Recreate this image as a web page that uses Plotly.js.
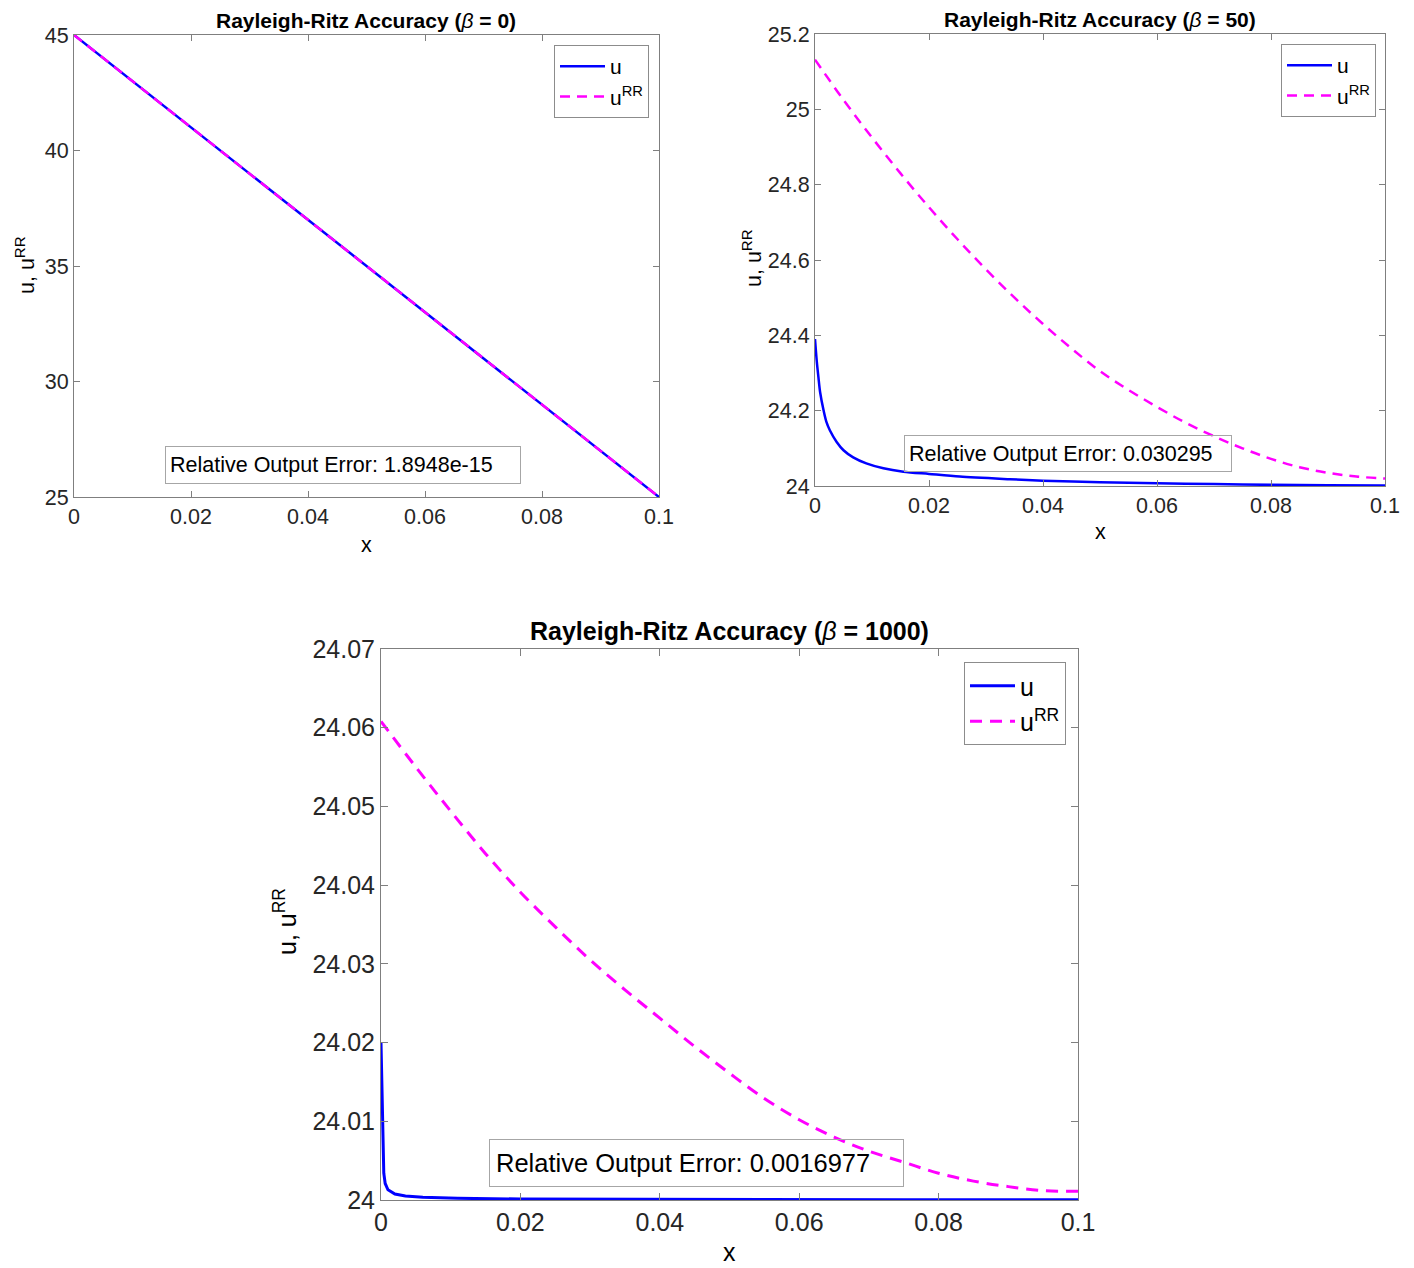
<!DOCTYPE html>
<html>
<head>
<meta charset="utf-8">
<script src="https://cdn.plot.ly/plotly-3.0.1.min.js"></script>
<style>html,body{margin:0;padding:0;background:#fff;}</style>
</head>
<body>
<div id="chart" style="width:1414px;height:1268px;"></div>
<script>
// ---------- data ----------
// beta = 0
const x_b0   = [0, 0.02, 0.04, 0.06, 0.08, 0.1];
const u_b0   = [45, 41, 37, 33, 29, 25];
const uRR_b0 = [45, 41, 37, 33, 29, 25];

// beta = 50
const x_u_b50 = [0, 0.0003, 0.0006, 0.0009, 0.0015, 0.002, 0.0026, 0.0038, 0.005, 0.0067, 0.009, 0.012, 0.0155, 0.02, 0.0254, 0.0342, 0.04, 0.05, 0.06, 0.07, 0.08, 0.09, 0.1];
const u_b50   = [24.390, 24.333, 24.289, 24.249, 24.201, 24.170, 24.148, 24.117, 24.095, 24.076, 24.060, 24.047, 24.038, 24.032, 24.025, 24.018, 24.014, 24.010, 24.007, 24.005, 24.003, 24.002, 24.001];
const x_rr    = [0, 0.005, 0.01, 0.015, 0.02, 0.025, 0.03, 0.035, 0.04, 0.045, 0.05, 0.055, 0.06, 0.065, 0.07, 0.075, 0.08, 0.085, 0.09, 0.095, 0.1];
const uRR_b50 = [25.132, 25.025, 24.925, 24.83, 24.74, 24.655, 24.575, 24.50, 24.43, 24.365, 24.305, 24.255, 24.21, 24.168, 24.132, 24.10, 24.072, 24.05, 24.035, 24.025, 24.02];

// beta = 1000
const x_u_b1000 = [0, 0.0004, 0.0006, 0.001, 0.002, 0.0035, 0.006, 0.011, 0.02, 0.035, 0.05, 0.075, 0.1];
const u_b1000   = [24.020, 24.0034, 24.0021, 24.0013, 24.00076, 24.0005, 24.00034, 24.00021, 24.00013, 24.00008, 24.00005, 24.00003, 24.00002];
const uRR_b1000 = [24.0608, 24.0550, 24.0494, 24.0440, 24.0391, 24.0347, 24.0305, 24.0267, 24.0231, 24.0195, 24.0161, 24.0129, 24.0102, 24.0080, 24.0062, 24.0048, 24.0034, 24.0024, 24.0017, 24.0012, 24.0011];

const titles = ['Rayleigh-Ritz Accuracy (<i>β</i> = 0)', 'Rayleigh-Ritz Accuracy (<i>β</i> = 50)', 'Rayleigh-Ritz Accuracy (<i>β</i> = 1000)'];
const errors = ['Relative Output Error: 1.8948e-15', 'Relative Output Error: 0.030295', 'Relative Output Error: 0.0016977'];
const legendNames = ['u', 'u<sup>RR</sup>'];

// ---------- layout helpers ----------
const W = 1414, H = 1268;
const px = v => v / W;
const py = v => 1 - v / H;
const FONT = 'Liberation Sans, Arial, Helvetica, sans-serif';
const BLUE = '#0000ff', MAG = '#ff00ff';

function axisBase(size, tl) {
  return {
    showline: true, linecolor: '#7f7f7f', linewidth: 1, mirror: 'allticks',
    ticks: 'inside', ticklen: tl, tickcolor: '#7f7f7f', tickwidth: 1,
    showgrid: false, zeroline: false, fixedrange: true,
    tickfont: {family: FONT, size: size, color: '#262626'}
  };
}

const traces = [
  {x: x_b0, y: u_b0, xaxis: 'x', yaxis: 'y', legend: 'legend', name: legendNames[0], mode: 'lines', line: {color: BLUE, width: 2.5}},
  {x: x_b0, y: uRR_b0, xaxis: 'x', yaxis: 'y', legend: 'legend', name: legendNames[1], mode: 'lines', line: {color: MAG, width: 2.5, dash: '10px,7px'}},
  {x: x_u_b50, y: u_b50, xaxis: 'x2', yaxis: 'y2', legend: 'legend2', name: legendNames[0], mode: 'lines', line: {color: BLUE, width: 2.5, shape: 'spline', smoothing: 0.8}},
  {x: x_rr, y: uRR_b50, xaxis: 'x2', yaxis: 'y2', legend: 'legend2', name: legendNames[1], mode: 'lines', line: {color: MAG, width: 2.5, dash: '10px,7px', shape: 'spline'}},
  {x: x_u_b1000, y: u_b1000, xaxis: 'x3', yaxis: 'y3', legend: 'legend3', name: legendNames[0], mode: 'lines', line: {color: BLUE, width: 3}},
  {x: x_rr, y: uRR_b1000, xaxis: 'x3', yaxis: 'y3', legend: 'legend3', name: legendNames[1], mode: 'lines', line: {color: MAG, width: 3, dash: '12px,8px', shape: 'spline'}}
];

function legendCfg(xr, yt, size) {
  return {x: px(xr), y: py(yt), xanchor: 'right', yanchor: 'top', xref: 'paper', yref: 'paper',
          bgcolor: '#ffffff', bordercolor: '#8c8c8c', borderwidth: 1, itemwidth: 45,
          font: {family: FONT, size: size, color: '#000'}, tracegroupgap: 0};
}

function txt(text, x, y, size, opts) {
  return Object.assign({text: text, x: px(x), y: py(y), xref: 'paper', yref: 'paper',
    showarrow: false, xanchor: 'center', yanchor: 'middle',
    font: {family: FONT, size: size, color: '#000'}}, opts || {});
}

function box(text, l, t, r, b, size, pad) {
  return {text: text, x: px(l), y: py(t), xref: 'paper', yref: 'paper', showarrow: false,
    xanchor: 'left', yanchor: 'top', align: 'left', valign: 'middle',
    width: (r - l) - 2 * (pad + 1), height: (b - t) - 2 * (pad + 1),
    bordercolor: '#a6a6a6', borderwidth: 1, borderpad: pad, bgcolor: 'rgba(0,0,0,0)',
    font: {family: FONT, size: size, color: '#000'}};
}

const layout = {
  width: W, height: H, margin: {l: 0, r: 0, t: 0, b: 0},
  paper_bgcolor: '#fff', plot_bgcolor: '#fff', showlegend: true,
  xaxis: Object.assign(axisBase(21.5, 6), {domain: [px(74), px(659)], range: [0, 0.1], tick0: 0, dtick: 0.02, anchor: 'y'}),
  yaxis: Object.assign(axisBase(21.5, 6), {domain: [py(497), py(35)], range: [25, 45], tick0: 25, dtick: 5, anchor: 'x'}),
  xaxis2: Object.assign(axisBase(21.5, 6), {domain: [px(815), px(1385)], range: [0, 0.1], tick0: 0, dtick: 0.02, anchor: 'y2'}),
  yaxis2: Object.assign(axisBase(21.5, 6), {domain: [py(486), py(34)], range: [24, 25.2], tick0: 24, dtick: 0.2, anchor: 'x2'}),
  xaxis3: Object.assign(axisBase(25, 7), {domain: [px(381), px(1078)], range: [0, 0.1], tick0: 0, dtick: 0.02, anchor: 'y3'}),
  yaxis3: Object.assign(axisBase(25, 7), {domain: [py(1200), py(649)], range: [24, 24.07], tick0: 24, dtick: 0.01, anchor: 'x3'}),
  legend: legendCfg(649, 45, 21),
  legend2: legendCfg(1376, 44, 21),
  legend3: legendCfg(1066, 662, 25),
  annotations: [
    txt('<b>Rayleigh-Ritz Accuracy (</b><i>β</i><b> = 0)</b>', 366, 20, 21),
    txt('<b>Rayleigh-Ritz Accuracy (</b><i>β</i><b> = 50)</b>', 1100, 19, 21),
    txt('<b>Rayleigh-Ritz Accuracy (</b><i>β</i><b> = 1000)</b>', 729, 631, 25),
    txt('x', 366, 545, 21.5),
    txt('x', 1100, 532, 21.5),
    txt('x', 729, 1252, 25),
    txt('u, u<sup>RR</sup>', 25, 265, 21.5, {textangle: -90}),
    txt('u, u<sup>RR</sup>', 752, 258, 21.5, {textangle: -90}),
    txt('u, u<sup>RR</sup>', 285, 922, 25, {textangle: -90}),
    box(errors[0], 165, 446, 521, 484, 21.5, 4),
    box(errors[1], 904, 435, 1232, 472, 21.5, 4),
    box(errors[2], 489, 1139, 904, 1187, 25.5, 6)
  ]
};

Plotly.newPlot('chart', traces, layout, {staticPlot: true, displayModeBar: false});
</script>
</body>
</html>
